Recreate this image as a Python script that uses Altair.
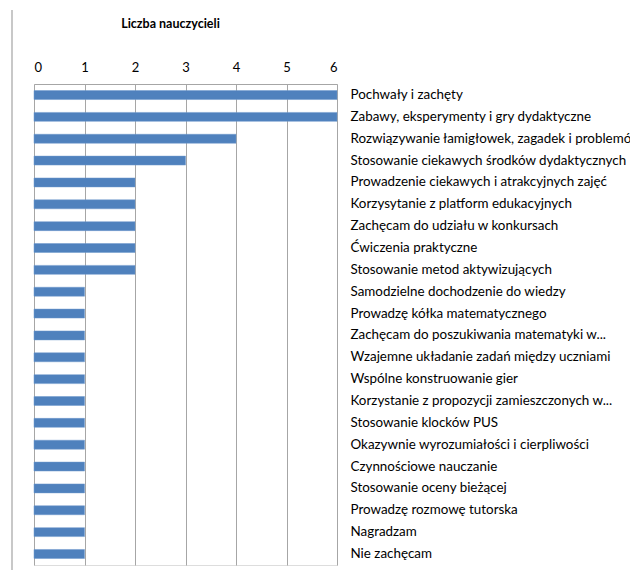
import altair as alt
import pandas as pd

categories = [
    "Pochwały i zachęty",
    "Zabawy, eksperymenty i gry dydaktyczne",
    "Rozwiązywanie łamigłowek, zagadek i problemów",
    "Stosowanie ciekawych środków dydaktycznych",
    "Prowadzenie ciekawych i atrakcyjnych zajęć",
    "Korzysytanie z platform edukacyjnych",
    "Zachęcam do udziału w konkursach",
    "Ćwiczenia praktyczne",
    "Stosowanie metod aktywizujących",
    "Samodzielne dochodzenie do wiedzy",
    "Prowadzę kółka matematycznego",
    "Zachęcam do poszukiwania matematyki w...",
    "Wzajemne układanie zadań między uczniami",
    "Wspólne konstruowanie gier",
    "Korzystanie z propozycji zamieszczonych w...",
    "Stosowanie klocków PUS",
    "Okazywnie wyrozumiałości i cierpliwości",
    "Czynnościowe nauczanie",
    "Stosowanie oceny bieżącej",
    "Prowadzę rozmowę tutorska",
    "Nagradzam",
    "Nie zachęcam",
]
values = [6, 6, 4, 3, 2, 2, 2, 2, 2, 1, 1, 1, 1, 1, 1, 1, 1, 1, 1, 1, 1, 1]
x_ticks = [0, 1, 2, 3, 4, 5, 6]

df = pd.DataFrame({"kategoria": categories, "liczba": values})

FONT = "Lato"

bars = alt.Chart(df).mark_bar(color="#4F81BD", stroke="#6E98CC", strokeWidth=0.5).encode(
    x=alt.X(
        "liczba:Q",
        scale=alt.Scale(domain=[0, 6], nice=False),
        axis=alt.Axis(
            orient="top",
            values=x_ticks,
            format="d",
            ticks=False,
            domain=True,
            domainColor="#A6A6A6",
            grid=True,
            gridColor="#A6A6A6",
            labelPadding=10,
            labelFontSize=13,
            labelFont=FONT,
            labelColor="#000000",
            title="Liczba nauczycieli",
            titleFont=FONT,
            titleFontSize=12.5,
            titleFontWeight="bold",
            titleColor="#000000",
            titleX=136,
            titleY=-54,
        ),
    ),
    y=alt.Y(
        "kategoria:N",
        sort=categories,
        scale=alt.Scale(paddingInner=0.59, paddingOuter=0.3),
        axis=alt.Axis(
            orient="right",
            ticks=False,
            domain=False,
            labelPadding=13,
            labelFontSize=13.4,
            labelFont=FONT,
            labelColor="#000000",
            labelLimit=400,
            title=None,
        ),
    ),
)

frame = alt.Chart(df).mark_rule(color="#C8C8C8", strokeWidth=2).encode(
    x=alt.value(-22), y=alt.value(-74), y2=alt.value(494)
)

chart = alt.layer(frame, bars).properties(
    width=303,
    height=481,
    autosize=alt.AutoSizeParams(type="none"),
    padding={"left": 26, "top": 76, "right": 293, "bottom": 5},
).configure_view(stroke=None).configure(background="white")

chart.save("out.html", embed_options={"renderer": "svg", "actions": False})
